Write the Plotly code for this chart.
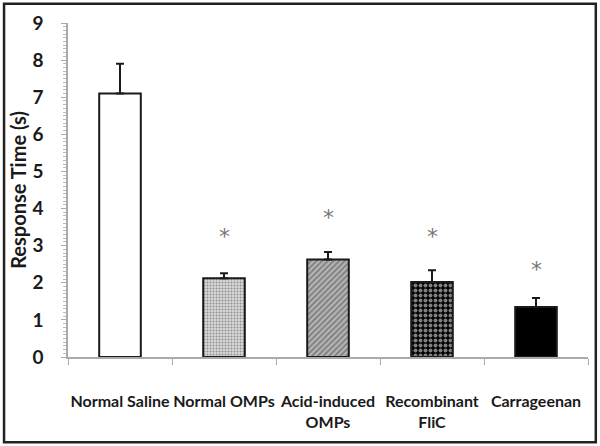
import plotly.graph_objects as go

categories = ["Normal Saline", "Normal OMPs", "Acid-induced<br>OMPs", "Recombinant<br>FliC", "Carrageenan"]
values = [7.1, 2.12, 2.63, 2.02, 1.35]
errors = [0.8, 0.14, 0.2, 0.32, 0.24]
star_y = [None, 3.26, 3.77, 3.26, 2.37]

fill_colors = ["white", "#d9d9d9", "#b5b5b5", "black", "black"]
pat_shapes = ["", ".", "/", ".", ""]
pat_fg = ["black", "#8a8a8a", "#555555", "white", "black"]
pat_size = [8, 3, 4, 5, 8]
pat_solid = [0.3, 0.35, 0.45, 0.5, 0.3]

FONT = "Lato"

fig = go.Figure()
fig.add_trace(go.Bar(
    x=categories, y=values, width=0.4,
    marker=dict(color=fill_colors, line=dict(color="#1a1a1a", width=2),
                pattern=dict(shape=pat_shapes, fgcolor=pat_fg, size=pat_size,
                             solidity=pat_solid, fillmode="overlay")),
    error_y=dict(type="data", array=errors, arrayminus=[0]*len(errors), symmetric=False,
                 color="#1a1a1a", thickness=2, width=4),
    showlegend=False,
))

for c, s in zip(categories, star_y):
    if s is not None:
        fig.add_annotation(x=c, y=s, text="*", showarrow=False,
                           font=dict(size=22, color="#777777", family="DejaVu Sans"))

fig.add_shape(type="rect", xref="paper", yref="paper",
              x0=-0.123, x1=1.015, y0=-0.255, y1=1.058,
              line=dict(color="#222222", width=2.5))

fig.update_layout(
    width=600, height=446,
    margin=dict(l=68, r=12, t=23, b=89, autoexpand=False),
    paper_bgcolor="white", plot_bgcolor="white",
    font=dict(family=FONT, color="#1a1a1a"),
    bargap=0.6,
)
fig.update_xaxes(
    showline=True, linecolor="#aaaaaa", linewidth=1.5,
    ticks="outside", tickson="boundaries", ticklen=6, tickcolor="#aaaaaa",
    tickfont=dict(size=16, family=FONT, color="#1a1a1a", weight="bold"),
    tickangle=0, automargin=False,
    ticklabelstandoff=29, showgrid=False,
)
fig.update_yaxes(
    range=[0, 9], dtick=1, showline=True, linecolor="#aaaaaa", linewidth=1.5,
    ticks="outside", ticklen=5, tickcolor="#aaaaaa",
    minor=dict(dtick=0.1, ticks="outside", ticklen=3, tickcolor="#bbbbbb"),
    tickfont=dict(size=19, family=FONT, color="#1a1a1a", weight="bold"),
    ticklabelstandoff=14, showgrid=False, zeroline=False, automargin=False,
    title=dict(text="<b>Response Time (s)</b>", font=dict(size=20, family=FONT, color="#1a1a1a"), standoff=0),
)

fig.write_html("out.html", config={"displayModeBar": False},
               post_script="document.body.style.margin='0px';")
